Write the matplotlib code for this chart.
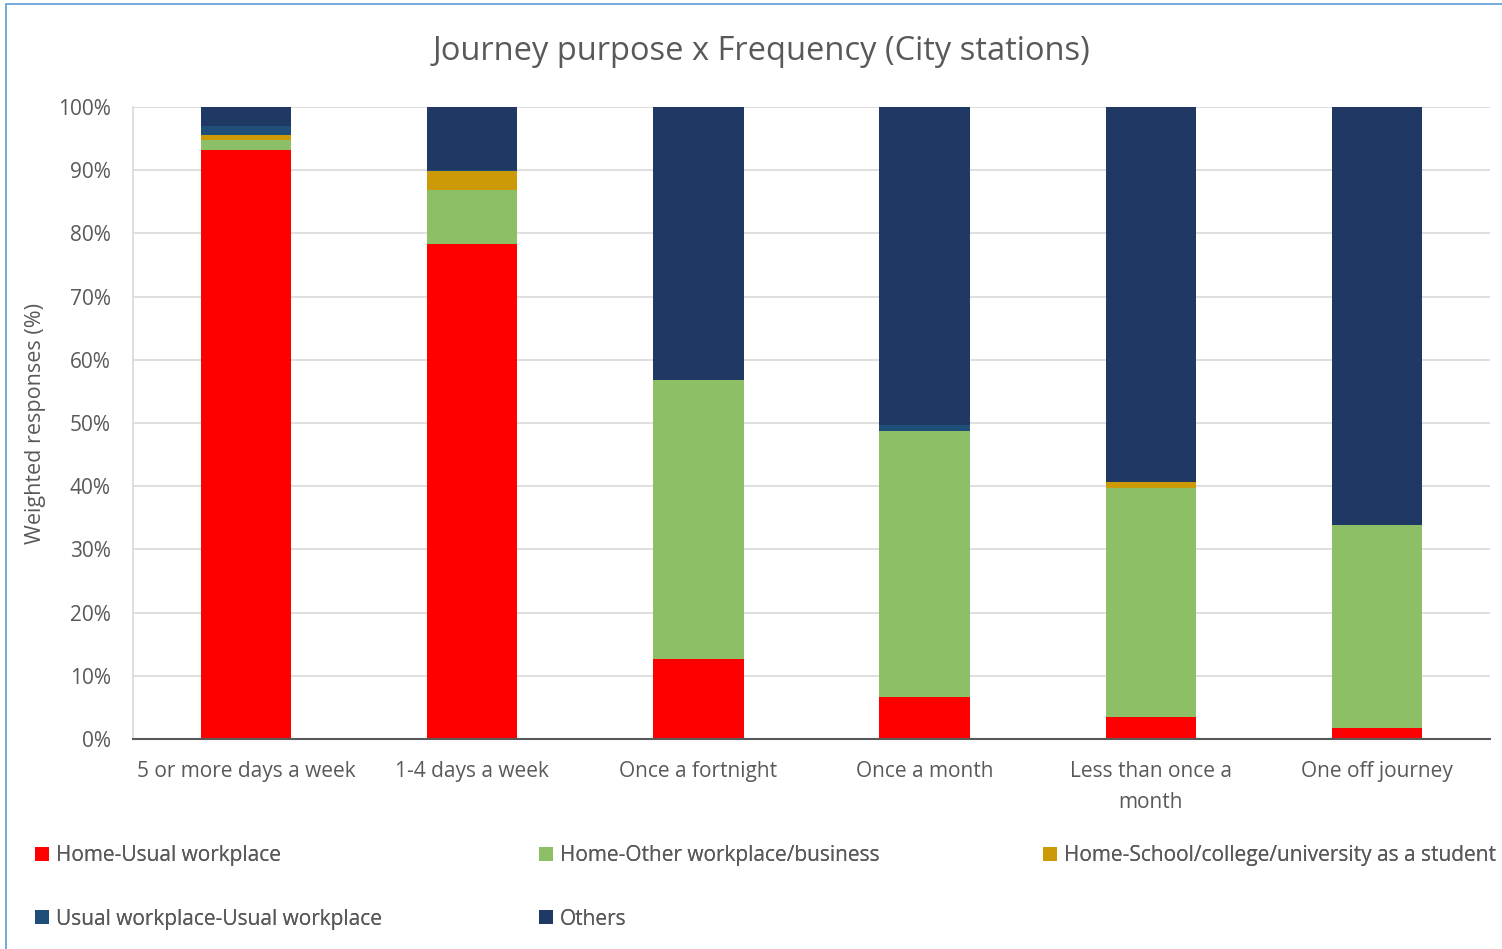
import matplotlib
matplotlib.use("Agg")
import matplotlib.pyplot as plt
from matplotlib.patches import Rectangle, Patch
import numpy as np

plt.rcParams['font.family'] = ['Open Sans', 'DejaVu Sans']

categories = ["5 or more days a week", "1-4 days a week", "Once a fortnight",
              "Once a month", "Less than once a\nmonth", "One off journey"]
series_names = ["Home-Usual workplace", "Home-Other workplace/business",
                "Home-School/college/university as a student",
                "Usual workplace-Usual workplace", "Others"]
home_usual = [93.2, 78.3, 12.7, 6.7, 3.5, 1.7]
home_other = [1.6, 8.5, 44.1, 42.1, 36.2, 32.1]
home_school = [0.7, 3.0, 0.0, 0.0, 0.9, 0.0]
usual_usual = [1.5, 0.3, 0.0, 0.9, 0.0, 0.0]
others = [3.0, 9.9, 43.2, 50.3, 59.4, 66.2]
colors = ["#FF0000", "#8DC066", "#CC9A06", "#1F4E79", "#203864"]

W, H = 1502, 949
fig = plt.figure(figsize=(W / 100, H / 100), dpi=100)

# chart frame line
fig.patches.append(Rectangle((6 / W, -0.05), 1.1, (H - 4) / H + 0.05,
                             transform=fig.transFigure, fill=False,
                             edgecolor="#5B9BD5", lw=1.2))

ax = fig.add_axes([133 / W, (H - 739) / H, (1490 - 133) / W, 632 / H])
x = np.arange(len(categories))
bottom = np.zeros(len(categories))
for vals, c, name in zip([home_usual, home_other, home_school, usual_usual, others],
                         colors, series_names):
    ax.bar(x, vals, 0.4, bottom=bottom, color=c, label=name, zorder=3)
    bottom += np.array(vals)

ax.set_xlim(-0.5, len(categories) - 0.5)
ax.set_ylim(0, 100)
ax.set_yticks(range(0, 101, 10))
ax.set_yticklabels([f"{v}%" for v in range(0, 101, 10)])
ax.set_xticks(x)
ax.set_xticklabels(categories, linespacing=1.6)
ax.tick_params(axis="both", length=0, labelsize=15, colors="#595959")
ax.tick_params(axis="x", pad=16)
ax.tick_params(axis="y", pad=16)
ax.grid(axis="y", color="#D9D9D9", lw=1.2, zorder=0)
for s in ["top", "right"]:
    ax.spines[s].set_visible(False)
ax.spines["left"].set_color("#D9D9D9")
ax.spines["left"].set_linewidth(1.2)
ax.spines["bottom"].set_color("#595959")
ax.spines["bottom"].set_linewidth(1.5)
ax.spines["bottom"].set_zorder(4)

ax.set_ylabel("Weighted responses (%)", fontsize=15.5, color="#595959")
ax.yaxis.set_label_coords(-0.064, 0.5)

fig.text(762 / W, 1 - 51 / H, "Journey purpose x Frequency (City stations)",
         ha="center", va="center", fontsize=23.5, color="#595959")

# legend laid out in three fixed-width columns, filled row by row
handles = [Patch(facecolor=c, edgecolor="none") for c in colors]
columns = [[0, 3], [1, 4], [2]]
col_x = [35, 539, 1043]
for cx, idx in zip(col_x, columns):
    leg = fig.legend([handles[i] for i in idx], [series_names[i] for i in idx],
                     loc="upper left", bbox_to_anchor=(cx / W, 1 - 845 / H),
                     frameon=False, fontsize=15, labelcolor="#595959",
                     handlelength=0.65, handleheight=0.65, handletextpad=0.35,
                     labelspacing=2.05, borderaxespad=0, borderpad=0)
    fig.add_artist(leg)

fig.savefig("out.png", dpi=100)
